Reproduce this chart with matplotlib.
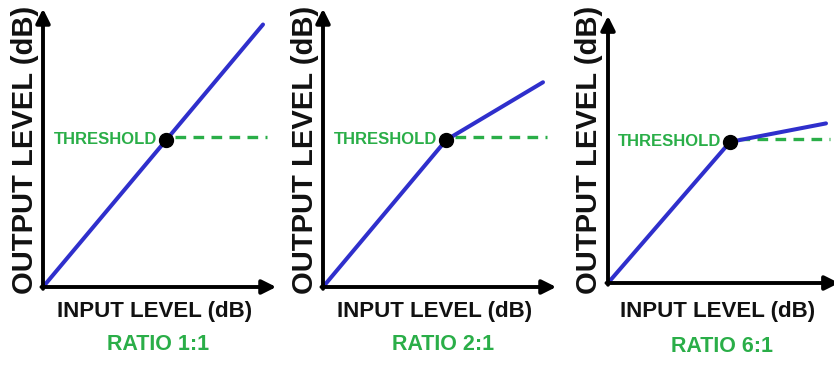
import matplotlib
matplotlib.use("Agg")
import matplotlib.pyplot as plt

# Data
ratios = [1, 2, 6]
ratio_labels = ["RATIO 1:1", "RATIO 2:1", "RATIO 6:1"]
threshold = 56
input_max = 100
dash_end = 102
x_label = "INPUT LEVEL (dB)"
y_label = "OUTPUT LEVEL (dB)"
thr_label = "THRESHOLD"

BLUE = "#2f2fcc"
GREEN = "#2aae48"
FONT = ["Liberation Sans", "DejaVu Sans"]

W, H = 834, 366
fig = plt.figure(figsize=(W / 100, H / 100), dpi=100)

# panel geometry in pixels: origin x, origin y, px per unit x, px per unit y
panels = [
    (43, 287, 2.2, 2.625),
    (323, 287, 2.2, 2.625),
    (608, 283, 2.18, 2.52),
]
ylab_x = [25, 305, 589]
xlab_x = [155, 435, 718]
xlab_y = [312, 312, 311]
ratio_x = [158, 443, 722]
ratio_y = [344, 344, 346]

LIM = 106
for i, (ox, oy, sx, sy) in enumerate(panels):
    w = LIM * sx
    h = LIM * sy
    ax = fig.add_axes([ox / W, (H - oy) / H, w / W, h / H])
    ax.set_xlim(0, LIM)
    ax.set_ylim(0, LIM)
    ax.axis("off")
    r = ratios[i]
    xs = [0, threshold, input_max]
    ys = [0, threshold, threshold + (input_max - threshold) / r]
    ax.plot(xs, ys, color=BLUE, lw=2.9, solid_capstyle="round", clip_on=False, zorder=3)
    ax.plot([threshold + 4, dash_end], [threshold + 1, threshold + 1], color=GREEN, lw=2.4,
            linestyle=(0, (3.2, 2.2)), clip_on=False, zorder=2)
    ax.plot([threshold], [threshold], "o", color="black", ms=10, zorder=4, clip_on=False)
    ax.annotate("", xy=(LIM, 0), xytext=(-0.7, 0),
                arrowprops=dict(arrowstyle="-|>", lw=2.8, color="black", mutation_scale=21,
                                shrinkA=0, shrinkB=0), annotation_clip=False)
    ax.annotate("", xy=(0, LIM), xytext=(0, -0.7),
                arrowprops=dict(arrowstyle="-|>", lw=2.8, color="black", mutation_scale=21,
                                shrinkA=0, shrinkB=0), annotation_clip=False)
    ax.text(threshold - 4, threshold + 0.3, thr_label, ha="right", va="center", color=GREEN,
            fontsize=12, fontweight="bold", family=FONT)
    fig.text(ylab_x[i] / W, (H - 150) / H, y_label, rotation=90, ha="center", va="center",
             fontsize=21, fontweight="bold", family=FONT, color="#111111")
    fig.text(xlab_x[i] / W, (H - xlab_y[i]) / H, x_label, ha="center", va="center",
             fontsize=16, fontweight="bold", family=FONT, color="#111111")
    fig.text(ratio_x[i] / W, (H - ratio_y[i]) / H, ratio_labels[i], ha="center", va="center",
             fontsize=15.5, fontweight="bold", family=FONT, color=GREEN)

fig.savefig("out.png", dpi=100, facecolor="white")
